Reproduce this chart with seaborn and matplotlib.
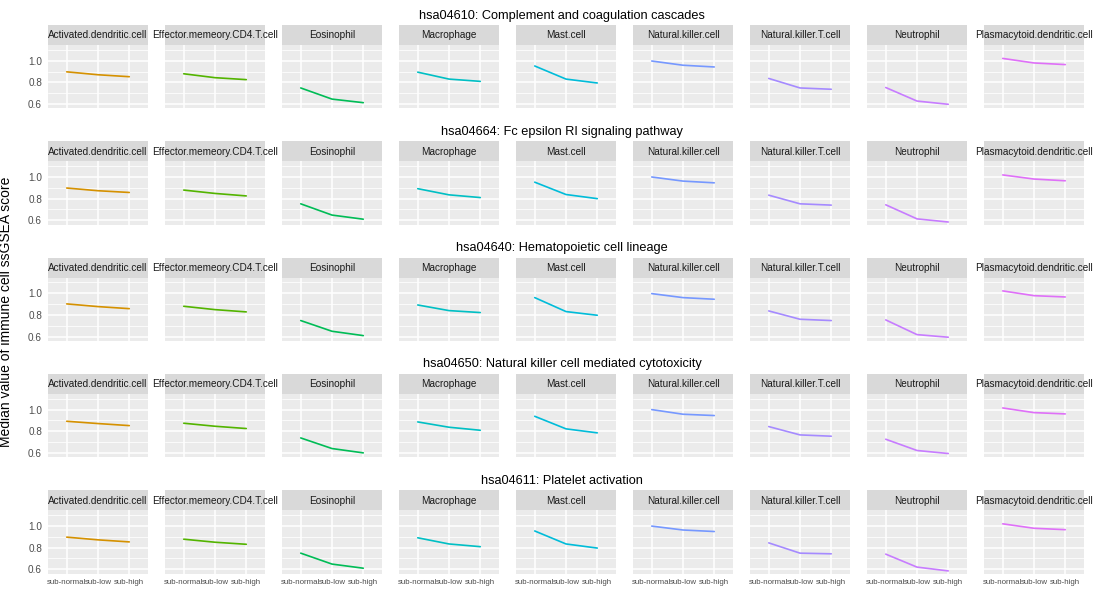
import numpy as np
import pandas as pd
import matplotlib
matplotlib.use("Agg")
import matplotlib.pyplot as plt
import seaborn as sns

# ---- data ----
pathways = [
    "hsa04610: Complement and coagulation cascades",
    "hsa04664: Fc epsilon RI signaling pathway",
    "hsa04640: Hematopoietic cell lineage",
    "hsa04650: Natural killer cell mediated cytotoxicity",
    "hsa04611: Platelet activation",
]
cells = [
    "Activated.dendritic.cell", "Effector.memeory.CD4.T.cell", "Eosinophil",
    "Macrophage", "Mast.cell", "Natural.killer.cell", "Natural.killer.T.cell",
    "Neutrophil", "Plasmacytoid.dendritic.cell",
]
groups = ["sub-normal", "sub-low", "sub-high"]

# median ssGSEA score, one row per cell type, columns = groups
hsa04610 = [
    [0.897, 0.870, 0.852], [0.879, 0.843, 0.825], [0.748, 0.645, 0.612],
    [0.894, 0.830, 0.809], [0.951, 0.830, 0.794], [0.997, 0.958, 0.942],
    [0.836, 0.748, 0.736], [0.752, 0.627, 0.597], [1.021, 0.979, 0.964],
]
hsa04664 = [
    [0.898, 0.873, 0.857], [0.879, 0.848, 0.825], [0.752, 0.648, 0.610],
    [0.892, 0.835, 0.810], [0.952, 0.838, 0.800], [1.000, 0.962, 0.946],
    [0.832, 0.752, 0.740], [0.743, 0.613, 0.584], [1.019, 0.981, 0.965],
]
hsa04640 = [
    [0.902, 0.877, 0.858], [0.880, 0.849, 0.828], [0.748, 0.649, 0.609],
    [0.892, 0.840, 0.822], [0.960, 0.831, 0.797], [0.997, 0.960, 0.945],
    [0.837, 0.760, 0.748], [0.754, 0.618, 0.594], [1.022, 0.978, 0.966],
]
hsa04650 = [
    [0.892, 0.871, 0.852], [0.874, 0.846, 0.825], [0.738, 0.640, 0.600],
    [0.886, 0.837, 0.809], [0.938, 0.822, 0.785], [1.000, 0.957, 0.945],
    [0.843, 0.766, 0.754], [0.726, 0.622, 0.594], [1.015, 0.972, 0.960],
]
hsa04611 = [
    [0.896, 0.871, 0.852], [0.877, 0.849, 0.830], [0.748, 0.647, 0.609],
    [0.890, 0.833, 0.808], [0.953, 0.833, 0.795], [0.998, 0.962, 0.948],
    [0.843, 0.748, 0.742], [0.739, 0.619, 0.584], [1.019, 0.978, 0.965],
]
scores = [hsa04610, hsa04664, hsa04640, hsa04650, hsa04611]

# position of each cell type in the full 28-cell ggplot palette
palette_index = [3, 8, 10, 14, 15, 19, 20, 21, 22]


def hue_pal(n, c=100.0, l=65.0):
    """ggplot2 default hue palette (HCL -> sRGB)."""
    Xn, Yn, Zn = 95.047, 100.0, 108.883
    un = 4 * Xn / (Xn + 15 * Yn + 3 * Zn)
    vn = 9 * Yn / (Xn + 15 * Yn + 3 * Zn)
    out = []
    for h in 15 + 360 * np.arange(n) / n:
        U, V = c * np.cos(np.radians(h)), c * np.sin(np.radians(h))
        Y = Yn * ((l + 16) / 116) ** 3
        u, v = U / (13 * l) + un, V / (13 * l) + vn
        X = 9 * Y * u / (4 * v)
        Z = -X / 3 - 5 * Y + 3 * Y / v
        X, Y, Z = X / 100, Y / 100, Z / 100
        rgb = np.array([
            3.240479 * X - 1.537150 * Y - 0.498535 * Z,
            -0.969256 * X + 1.875992 * Y + 0.041556 * Z,
            0.055648 * X - 0.204043 * Y + 1.057311 * Z,
        ])
        rgb = np.where(rgb <= 0.0031308, 12.92 * rgb, 1.055 * np.abs(rgb) ** (1 / 2.4) - 0.055)
        out.append(tuple(np.clip(rgb, 0, 1)))
    return out


full_pal = hue_pal(28)
colors = [full_pal[i] for i in palette_index]

rows = []
for p, tab in zip(pathways, scores):
    for cell, vals in zip(cells, tab):
        for g, v in zip(groups, vals):
            rows.append({"pathway": p, "cell": cell, "group": g, "score": v})
df = pd.DataFrame(rows)
df["group"] = pd.Categorical(df["group"], categories=groups, ordered=True)

sns.set_style("white")
plt.rcParams["font.family"] = ["Liberation Sans", "DejaVu Sans"]

W, H = 1093, 592
fig = plt.figure(figsize=(W / 100, H / 100), dpi=100)

# layout in pixels
left0, col_step, pw = 48, 117, 100
top0, row_step, sh, ph = 25, 116.3, 20, 63.3

for r, p in enumerate(pathways):
    strip_top = top0 + r * row_step
    fig.text(562 / W, 1 - (strip_top - 6.5) / H, p, ha="center", va="baseline",
             fontsize=9.2, color="black")
    for j, cell in enumerate(cells):
        x0 = left0 + j * col_step
        # strip
        sax = fig.add_axes([x0 / W, 1 - (strip_top + sh) / H, pw / W, sh / H])
        sax.set_facecolor("#D9D9D9")
        sax.set_xticks([]); sax.set_yticks([])
        for s in sax.spines.values():
            s.set_visible(False)
        sax.text(0.5, 0.48, cell, ha="center", va="center", fontsize=7.2,
                 color="#1A1A1A", transform=sax.transAxes)

        ax = fig.add_axes([x0 / W, 1 - (strip_top + sh + ph) / H, pw / W, ph / H])
        sub = df[(df["pathway"] == p) & (df["cell"] == cell)]
        sns.lineplot(data=sub, x="group", y="score", color=colors[j],
                     linewidth=1.2, errorbar=None, ax=ax)
        ax.set_facecolor("#EBEBEB")
        for s in ax.spines.values():
            s.set_visible(False)
        ax.set_xlim(-0.6, 2.6)
        ax.set_ylim(0.56, 1.145)
        ax.set_xticks(range(len(groups)))
        ax.set_yticks([0.6, 0.8, 1.0])
        ax.set_yticks([0.7, 0.9, 1.1], minor=True)
        ax.grid(True, which="major", color="white", linewidth=1.1)
        ax.grid(True, which="minor", axis="y", color="white", linewidth=0.55)
        ax.set_axisbelow(True)
        ax.set_xlabel(""); ax.set_ylabel("")
        ax.tick_params(which="minor", length=0)
        ax.tick_params(which="major", length=2.3, width=1.0, color="#333333",
                       labelcolor="#4D4D4D", pad=2.0)
        ax.tick_params(axis="y", labelsize=7.2)
        ax.tick_params(axis="x", labelsize=5.7)
        if j == 0:
            ax.set_yticklabels(["0.6", "0.8", "1.0"])
        else:
            ax.tick_params(axis="y", length=0, labelleft=False)
        if r == len(pathways) - 1:
            ax.set_xticklabels(groups)
        else:
            ax.tick_params(axis="x", length=0, labelbottom=False)

fig.text(6 / W, 1 - 312 / H, "Median value of immune cell ssGSEA score",
         rotation=90, ha="center", va="center", fontsize=10, color="black")

fig.savefig("out.png", dpi=100, facecolor="white")
